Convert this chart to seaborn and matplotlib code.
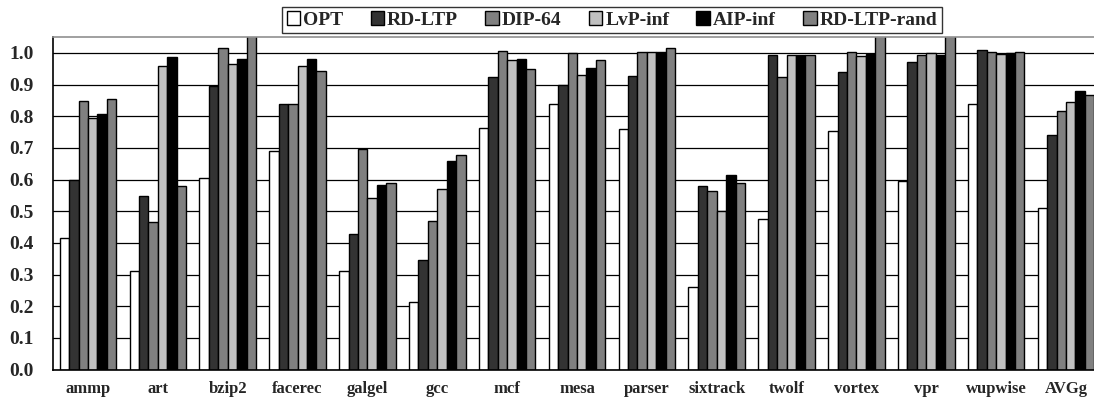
import matplotlib
matplotlib.use("Agg")
import matplotlib.pyplot as plt
import seaborn as sns
import pandas as pd

benchmarks = ["ammp", "art", "bzip2", "facerec", "galgel", "gcc", "mcf", "mesa",
              "parser", "sixtrack", "twolf", "vortex", "vpr", "wupwise", "AVGg"]
policies = ["OPT", "RD-LTP", "DIP-64", "LvP-inf", "AIP-inf", "RD-LTP-rand"]

opt = [0.414, 0.311, 0.605, 0.690, 0.311, 0.212, 0.762, 0.840, 0.760, 0.260, 0.476, 0.752, 0.596, 0.840, 0.510]
rd_ltp = [0.600, 0.547, 0.896, 0.839, 0.429, 0.345, 0.923, 0.898, 0.926, 0.580, 0.994, 0.939, 0.972, 1.008, 0.741]
dip_64 = [0.849, 0.466, 1.015, 0.839, 0.696, 0.468, 1.007, 0.998, 1.002, 0.563, 0.923, 1.002, 0.993, 1.002, 0.815]
lvp_inf = [0.794, 0.959, 0.964, 0.960, 0.541, 0.571, 0.977, 0.931, 1.003, 0.499, 0.993, 0.991, 1.001, 0.997, 0.846]
aip_inf = [0.808, 0.986, 0.980, 0.982, 0.583, 0.657, 0.982, 0.953, 1.002, 0.614, 0.994, 0.995, 0.993, 0.998, 0.880]
rd_ltp_rand = [0.853, 0.580, 1.060, 0.944, 0.590, 0.678, 0.950, 0.976, 1.014, 0.589, 0.994, 1.060, 1.060, 1.004, 0.866]

y_ticks = [0.0, 0.1, 0.2, 0.3, 0.4, 0.5, 0.6, 0.7, 0.8, 0.9, 1.0]

series = [opt, rd_ltp, dip_64, lvp_inf, aip_inf, rd_ltp_rand]
rows = []
for pol, vals in zip(policies, series):
    for b, v in zip(benchmarks, vals):
        rows.append({"benchmark": b, "policy": pol, "value": v})
df = pd.DataFrame(rows)

palette = {"OPT": "#FFFFFF", "RD-LTP": "#333333", "DIP-64": "#808080",
           "LvP-inf": "#C0C0C0", "AIP-inf": "#000000", "RD-LTP-rand": "#808080"}

sns.set_theme(style="white")
plt.rcParams["font.family"] = ["Liberation Serif", "DejaVu Serif"]
plt.rcParams["font.weight"] = "bold"

fig = plt.figure(figsize=(10.94, 4.0), dpi=100)
ax = fig.add_axes([53 / 1094, 1 - 369.5 / 400, (1101 - 53) / 1094, (369.5 - 37) / 400])

sns.barplot(data=df, x="benchmark", y="value", hue="policy", hue_order=policies,
            order=benchmarks, palette=palette, width=0.81, gap=0,
            edgecolor="black", linewidth=1.0, saturation=1, ax=ax, legend=True)

ax.set_xlim(-0.5, len(benchmarks) - 0.5)
ax.set_ylim(0, 1.05)
ax.set_yticks(y_ticks)
ax.set_yticklabels([f"{t:.1f}" for t in y_ticks], fontsize=14, fontweight="bold")
ax.tick_params(axis="x", length=0, pad=8, labelsize=12)
ax.tick_params(axis="y", length=0, pad=14)
for lbl in ax.get_xticklabels():
    lbl.set_fontweight("bold")
ax.set_xlabel("")
ax.set_ylabel("")

ax.set_axisbelow(True)
ax.yaxis.grid(True, color="black", linewidth=0.9)
ax.xaxis.grid(False)

for side in ["left", "bottom"]:
    ax.spines[side].set_color("black")
    ax.spines[side].set_linewidth(1.2)
ax.spines["top"].set_color("#909090")
ax.spines["top"].set_linewidth(1.2)
ax.spines["right"].set_visible(False)

handles, labels = ax.get_legend_handles_labels()
ax.legend_.remove()
leg = fig.legend(handles, labels, loc="upper center", bbox_to_anchor=(612 / 1094, 1 - 7 / 400),
                 ncol=6, frameon=True, fancybox=False, edgecolor="black",
                 prop={"family": "Liberation Serif", "weight": "bold", "size": 14},
                 handlelength=0.7, handleheight=0.7, handletextpad=0.15,
                 columnspacing=1.4, borderpad=0.22, borderaxespad=0)
leg.get_frame().set_linewidth(1.0)

fig.savefig("out.png", dpi=100)
